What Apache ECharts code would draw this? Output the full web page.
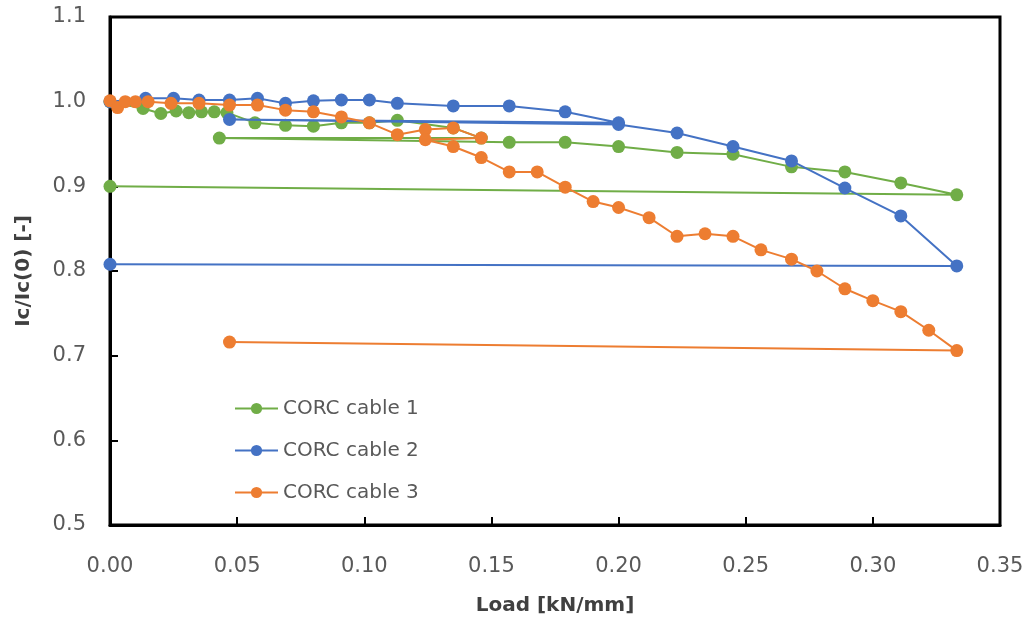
<!DOCTYPE html>
<html>
<head>
<meta charset="utf-8">
<script src="https://cdn.jsdelivr.net/npm/echarts@6/dist/echarts.min.js"></script>
<style>
  html, body { margin: 0; padding: 0; background: #fff; }
  #chart { width: 1028px; height: 621px; }
</style>
</head>
<body>
<div id="chart"></div>
<script>
// Normalised critical current Ic/Ic(0) against transverse load, per cable.
// Points are listed in measurement order (loading, unloading, reloading).
const cable1Load = [0, 0.013, 0.020, 0.026, 0.031, 0.036, 0.041, 0.046, 0.057, 0.069, 0.080, 0.091, 0.102, 0.113, 0.135, 0.146, 0.043, 0.157, 0.179, 0.200, 0.223, 0.245, 0.268, 0.289, 0.311, 0.333, 0];
const cable1Ic   = [1.000, 0.992, 0.986, 0.989, 0.987, 0.988, 0.988, 0.987, 0.975, 0.972, 0.971, 0.975, 0.975, 0.978, 0.969, 0.957, 0.957, 0.952, 0.952, 0.947, 0.940, 0.938, 0.923, 0.917, 0.904, 0.890, 0.900];

const cable2Load = [0, 0.014, 0.025, 0.035, 0.047, 0.058, 0.069, 0.080, 0.091, 0.102, 0.113, 0.135, 0.157, 0.179, 0.200, 0.047, 0.200, 0.223, 0.245, 0.268, 0.289, 0.311, 0.333, 0];
const cable2Ic   = [1.000, 1.004, 1.004, 1.002, 1.002, 1.004, 0.998, 1.001, 1.002, 1.002, 0.998, 0.995, 0.995, 0.988, 0.975, 0.979, 0.973, 0.963, 0.947, 0.930, 0.898, 0.865, 0.806, 0.808];

const cable3Load = [0, 0.003, 0.006, 0.010, 0.015, 0.024, 0.035, 0.047, 0.058, 0.069, 0.080, 0.091, 0.102, 0.113, 0.124, 0.135, 0.146, 0.124, 0.135, 0.146, 0.157, 0.168, 0.179, 0.190, 0.200, 0.212, 0.223, 0.234, 0.245, 0.256, 0.268, 0.278, 0.289, 0.300, 0.311, 0.322, 0.333, 0.047];
const cable3Ic   = [1.001, 0.993, 1.000, 1.000, 1.000, 0.998, 0.998, 0.996, 0.996, 0.990, 0.988, 0.982, 0.975, 0.961, 0.967, 0.969, 0.957, 0.955, 0.947, 0.934, 0.917, 0.917, 0.899, 0.882, 0.875, 0.863, 0.841, 0.844, 0.841, 0.825, 0.814, 0.800, 0.779, 0.765, 0.752, 0.730, 0.706, 0.716];

const seriesNames  = ['CORC cable 1', 'CORC cable 2', 'CORC cable 3'];
const seriesColors = ['#70AD47', '#4472C4', '#ED7D31'];

const xTitle = 'Load [kN/mm]';
const yTitle = 'Ic/Ic(0) [-]';

function pairs(xs, ys) {
  return xs.map((x, i) => [x, ys[i]]);
}

const seriesData = [
  pairs(cable1Load, cable1Ic),
  pairs(cable2Load, cable2Ic),
  pairs(cable3Load, cable3Ic)
];

const labelFont = 'DejaVu Sans, Liberation Sans, sans-serif';

const chart = echarts.init(document.getElementById('chart'), null, { renderer: 'canvas' });

chart.setOption({
  animation: false,
  backgroundColor: '#ffffff',
  grid: {
    left: 110, right: 28, top: 17, bottom: 96,
    show: true,
    borderColor: '#000000',
    borderWidth: 3,
    backgroundColor: 'transparent'
  },
  legend: {
    orient: 'vertical',
    left: 229,
    top: 393,
    itemWidth: 43,
    itemHeight: 14,
    itemGap: 21,
    data: seriesNames,
    textStyle: { fontFamily: labelFont, fontSize: 20, color: '#595959', lineHeight: 21 }
  },
  xAxis: {
    type: 'value',
    min: 0, max: 0.35, interval: 0.05,
    name: xTitle,
    nameLocation: 'middle',
    nameGap: 71,
    nameTextStyle: { fontFamily: labelFont, fontSize: 20, fontWeight: 'bold', color: '#404040' },
    axisLine: { show: true, lineStyle: { color: '#000000', width: 3 } },
    axisTick: { show: true, inside: true, length: 8, lineStyle: { color: '#000000', width: 2 } },
    axisLabel: {
      margin: 31,
      fontFamily: labelFont, fontSize: 21, color: '#595959',
      formatter: v => v.toFixed(2)
    },
    splitLine: { show: false }
  },
  yAxis: {
    type: 'value',
    min: 0.5, max: 1.1, interval: 0.1,
    name: yTitle,
    nameLocation: 'middle',
    nameGap: 76,
    nameRotate: 90,
    nameTextStyle: { fontFamily: labelFont, fontSize: 20, fontWeight: 'bold', color: '#404040' },
    axisLine: { show: true, lineStyle: { color: '#000000', width: 3 } },
    axisTick: { show: true, inside: true, length: 8, lineStyle: { color: '#000000', width: 2 } },
    axisLabel: {
      margin: 24,
      fontFamily: labelFont, fontSize: 21, color: '#595959',
      formatter: v => v.toFixed(1)
    },
    splitLine: { show: false }
  },
  series: seriesNames.map((name, i) => ({
    name: name,
    type: 'line',
    data: seriesData[i],
    symbol: 'circle',
    symbolSize: 13,
    showSymbol: true,
    lineStyle: { color: seriesColors[i], width: 2 },
    itemStyle: { color: seriesColors[i] },
    emphasis: { disabled: true },
    z: 2 + i
  }))
});
</script>
</body>
</html>
